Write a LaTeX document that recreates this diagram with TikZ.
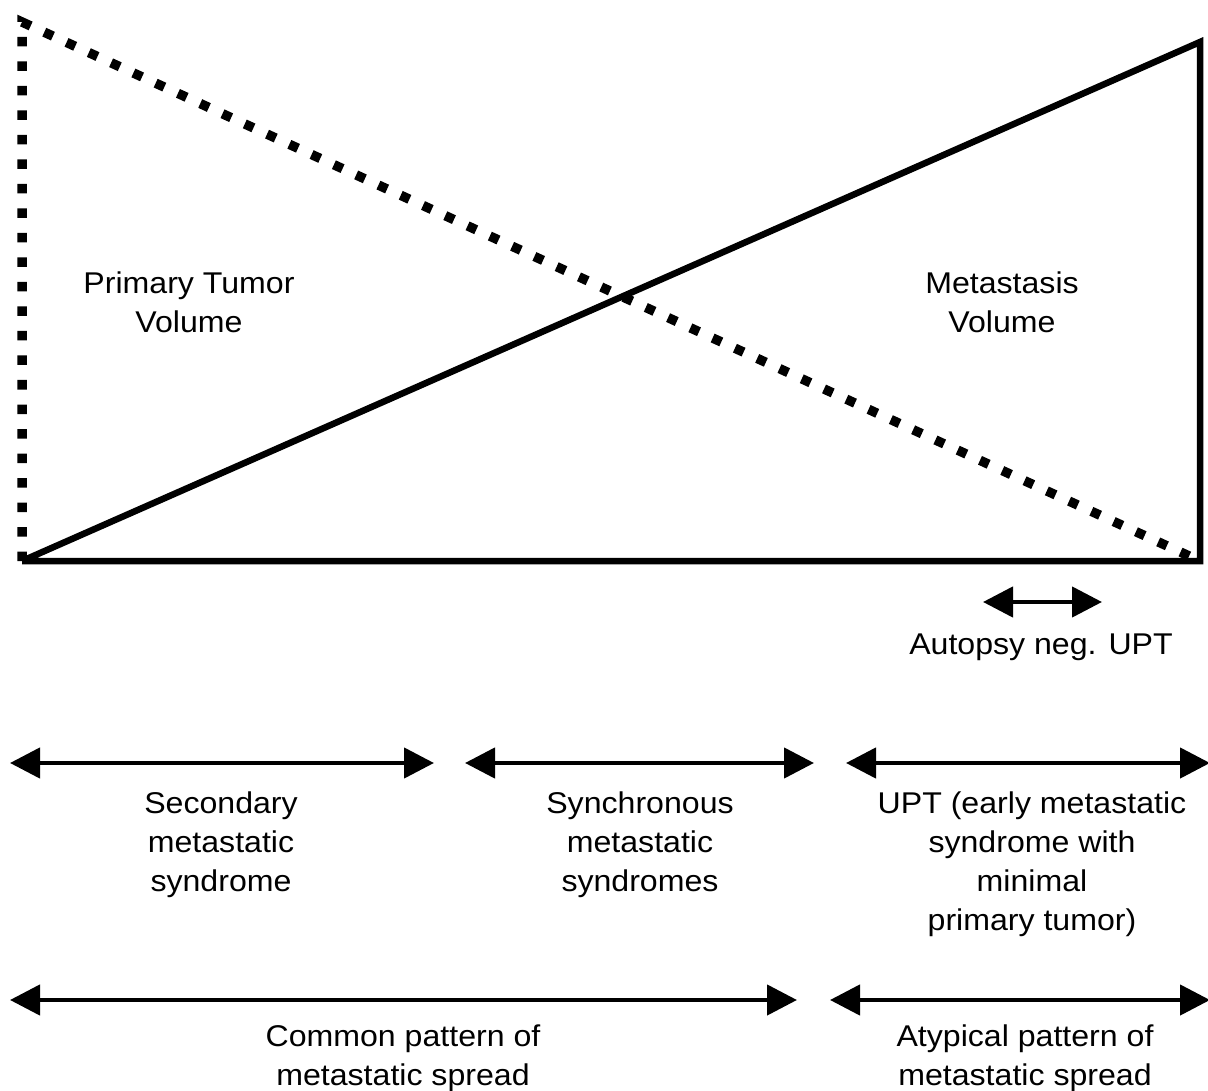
\documentclass[tikz,border=0pt]{standalone}
\usepackage{fontspec}
\setmainfont[FakeStretch=1.07]{Liberation Sans}
\usetikzlibrary{arrows.meta}
\begin{document}
\begin{tikzpicture}[x=1pt,y=-1pt,
  solidline/.style={line width=6.5pt,line cap=butt,line join=miter},
  dotline/.style={line width=9.5pt,dash pattern=on 9.5pt off 15pt},
  span/.style={line width=4.5pt,{Triangle[length=30pt,width=30pt]}-{Triangle[length=30pt,width=30pt]}},
  lbl/.style={align=center,font=\fontsize{30}{39}\selectfont,inner sep=0pt,anchor=north}]
\useasboundingbox (0,0) rectangle (1208,1091);
\coordinate (tl) at (22,22);
\coordinate (bl) at (22,561);
\coordinate (br) at (1200,561);
\coordinate (tr) at (1200,42);
\draw[dotline] (bl) -- (tl) -- (br);
\draw[solidline] (bl) -- (br) -- (tr) -- (bl);
\node[lbl] (pt) at (189,272) {Primary Tumor\\Volume};
\node[lbl] (mv) at (1002,272) {Metastasis\\Volume};
% autopsy
\coordinate (a1) at (983,602);
\coordinate (a2) at (1102,602);
\draw[span] (a1) -- (a2);
\node[lbl] (aut) at (1041,634) {Autopsy neg. UPT};
% row 1
\coordinate (r1a) at (10,763);
\coordinate (r1b) at (434,763);
\coordinate (r1c) at (465,763);
\coordinate (r1d) at (814,763);
\coordinate (r1e) at (846,763);
\coordinate (r1f) at (1210,763);
\draw[span] (r1a) -- (r1b);
\draw[span] (r1c) -- (r1d);
\draw[span] (r1e) -- (r1f);
\node[lbl] (sec) at (221,792) {Secondary\\metastatic\\syndrome};
\node[lbl] (syn) at (640,792) {Synchronous\\metastatic\\syndromes};
\node[lbl] (upt) at (1032,792) {UPT (early metastatic\\syndrome with\\minimal\\primary tumor)};
% row 2
\coordinate (r2a) at (10,1000);
\coordinate (r2b) at (797,1000);
\coordinate (r2c) at (830,1000);
\coordinate (r2d) at (1210,1000);
\draw[span] (r2a) -- (r2b);
\draw[span] (r2c) -- (r2d);
\node[lbl] (com) at (403,1025) {Common pattern of\\metastatic spread};
\node[lbl] (aty) at (1025,1025) {Atypical pattern of\\metastatic spread};
\end{tikzpicture}
\end{document}
